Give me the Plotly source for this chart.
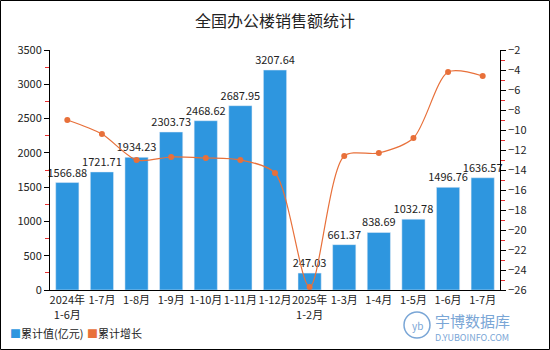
import plotly.graph_objects as go

categories = ["2024年<br>1-6月", "1-7月", "1-8月", "1-9月", "1-10月", "1-11月", "1-12月",
              "2025年<br>1-2月", "1-3月", "1-4月", "1-5月", "1-6月", "1-7月"]
values = [1566.88, 1721.71, 1934.23, 2303.73, 2468.62, 2687.95, 3207.64,
          247.03, 661.37, 838.69, 1032.78, 1496.76, 1636.57]
growth = [-9.0, -10.4, -13.0, -12.7, -12.8, -13.0, -14.3,
          -25.7, -12.6, -12.3, -10.8, -4.2, -4.6]

BLUE = "#2E96DF"
ORANGE = "#E8703A"
FONT = "Noto Sans CJK SC"
idx = list(range(len(categories)))

fig = go.Figure()
fig.add_trace(go.Bar(
    x=idx, y=values, marker_color=BLUE, showlegend=False,
    text=[f"{v:.2f}" for v in values], textposition="outside", constraintext="none",
    textfont=dict(size=11, color="#222", family=FONT), cliponaxis=False,
))
fig.add_trace(go.Scatter(
    x=idx, y=growth, yaxis="y2", mode="lines+markers",
    line=dict(color=ORANGE, width=1.2, shape="spline", smoothing=0.8),
    marker=dict(color=ORANGE, size=6), showlegend=False,
))

W, H = 550, 350
L, R, T, B = 50, 50, 50, 60
pw, ph = W - L - R, H - T - B

def px_x(p):
    return (p - L) / pw

def px_y(p):
    return (H - B - p) / ph

fig.add_shape(type="rect", xref="paper", yref="paper",
              x0=px_x(0.5), x1=px_x(549.5), y0=px_y(349.5), y1=px_y(0.5),
              line=dict(color="#000", width=1), layer="below")

# legend drawn as annotations
fig.add_annotation(text=f"<span style='color:{BLUE}'>■</span>累计值(亿元)", xref="paper", yref="paper",
                   x=px_x(8), y=px_y(333), xanchor="left", yanchor="middle", showarrow=False,
                   font=dict(size=11, color="#222", family=FONT))
fig.add_annotation(text=f"<span style='color:{ORANGE}'>■</span>累计增长", xref="paper", yref="paper",
                   x=px_x(85), y=px_y(333), xanchor="left", yanchor="middle", showarrow=False,
                   font=dict(size=11, color="#222", family=FONT))

# watermark
WM = "#7AA6D6"
fig.add_annotation(text="宇博数据库", xref="paper", yref="paper",
                   x=px_x(472), y=px_y(320), xanchor="center", yanchor="middle",
                   showarrow=False, font=dict(size=15, color=WM, family=FONT))
fig.add_annotation(text="D.YUBOINFO.COM", xref="paper", yref="paper",
                   x=px_x(472), y=px_y(337), xanchor="center", yanchor="middle",
                   showarrow=False, font=dict(size=9, color=WM, family=FONT))
fig.add_shape(type="circle", xref="paper", yref="paper",
              x0=px_x(404), x1=px_x(430), y0=px_y(338), y1=px_y(312),
              line=dict(color=WM, width=1.5))
fig.add_annotation(text="yb", xref="paper", yref="paper",
                   x=px_x(417), y=px_y(325), xanchor="center", yanchor="middle", showarrow=False,
                   font=dict(size=10, color=WM, family=FONT))

fig.update_layout(
    width=W, height=H,
    margin=dict(l=L, r=R, t=T, b=B),
    paper_bgcolor="white", plot_bgcolor="white",
    font=dict(family=FONT, size=11, color="#222"),
    title=dict(text="全国办公楼销售额统计", x=0.5, xanchor="center", y=0.94, yanchor="middle",
               font=dict(size=16, color="#222", family=FONT)),
    bargap=0.33,
    showlegend=False,
    xaxis=dict(range=[-0.5, len(categories) - 0.5], tickvals=idx, ticktext=categories,
               showline=True, linecolor="#000", linewidth=1, ticks="", showgrid=False,
               zeroline=False, tickfont=dict(size=11, color="#222"), tickangle=0),
    yaxis=dict(range=[0, 3500], dtick=500, showline=True, linecolor="#000", linewidth=1,
               ticks="outside", ticklen=5, tickcolor="#000", showgrid=False, zeroline=False,
               tickfont=dict(size=11, color="#222"),
               minor=dict(ticks="outside", ticklen=4, tickcolor="#E83030", dtick=250, showgrid=False)),
    yaxis2=dict(range=[-26, -2], dtick=2, overlaying="y", side="right", showline=True,
                linecolor="#000", linewidth=1, ticks="outside", ticklen=5, tickcolor="#000",
                showgrid=False, zeroline=False, tickfont=dict(size=11, color="#222"),
                minor=dict(ticks="outside", ticklen=4, tickcolor="#E83030", dtick=1, showgrid=False)),
)

fig.write_html("out.html")
